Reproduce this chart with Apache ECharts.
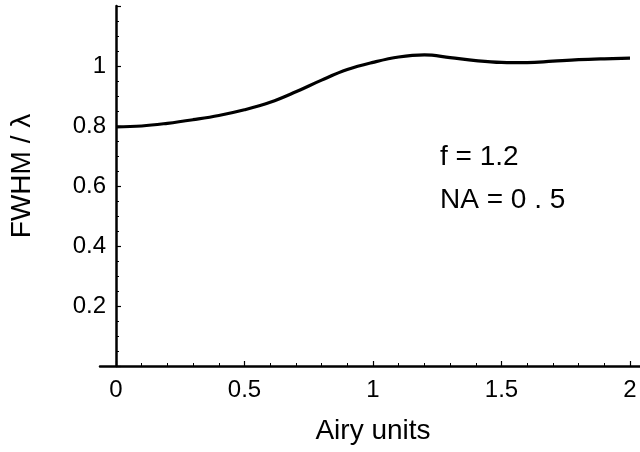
<!DOCTYPE html>
<html>
<head>
<meta charset="utf-8">
<script src="https://cdn.jsdelivr.net/npm/echarts@6/dist/echarts.min.js"></script>
<style>
  html, body { margin: 0; padding: 0; background: #fff; }
  #chart { width: 640px; height: 452px; }
</style>
</head>
<body>
<div id="chart"></div>
<script>
// values
const airyUnits = [0, 0.1, 0.2, 0.3, 0.4, 0.5, 0.6, 0.7, 0.8, 0.9, 1.0,
                   1.1, 1.2, 1.3, 1.4, 1.5, 1.6, 1.7, 1.8, 1.9, 2.0];
const fwhm = [0.797, 0.800, 0.809, 0.821, 0.835, 0.854, 0.879, 0.914, 0.953, 0.988, 1.012,
              1.030, 1.037, 1.028, 1.018, 1.012, 1.011, 1.016, 1.021, 1.024, 1.026];
const xTickLabels = ['0', '0.5', '1', '1.5', '2'];
const yTickLabels = ['0.2', '0.4', '0.6', '0.8', '1'];
const noteLines = ['f = 1.2', 'NA = 0 . 5'];

(function() {
    const chart = echarts.init(document.getElementById('chart'), null, { renderer: 'canvas' });
    const font = 'Liberation Sans, Arial, sans-serif';
    const ink = '#000';

    const fmt = v => String(Math.round(v * 100) / 100);

    const option = {
        backgroundColor: '#fff',
        animation: false,
        grid: [
            { left: 115, right: 10, top: 6, bottom: 86 },
            // wider grid only used to draw the extended x axis line
            { left: 100, right: 0, top: 6, bottom: 86 }
        ],
        xAxis: [
            {
                type: 'value', gridIndex: 0, min: 0, max: 2, interval: 0.5,
                name: 'Airy units', nameLocation: 'middle', nameGap: 51,
                nameTextStyle: { fontFamily: font, fontSize: 28, color: ink },
                axisLine: { show: false },
                axisTick: { show: true, inside: true, length: 5, lineStyle: { color: ink, width: 1.2 } },
                minorTick: { show: true, splitNumber: 5, length: 3, lineStyle: { color: ink, width: 1 } },
                splitLine: { show: false },
                axisLabel: {
                    margin: 12, fontFamily: font, fontSize: 24, color: ink,
                    formatter: v => xTickLabels.includes(fmt(v)) ? fmt(v) : ''
                }
            },
            {
                type: 'value', gridIndex: 1, min: 0, max: 1,
                axisLine: { show: true, lineStyle: { color: ink, width: 2.5 } },
                axisTick: { show: false }, axisLabel: { show: false }, splitLine: { show: false }
            }
        ],
        yAxis: [
            {
                type: 'value', gridIndex: 0, min: 0, max: 1.2, interval: 0.2,
                name: 'FWHM / λ', nameLocation: 'middle', nameGap: 80,
                nameTextStyle: { fontFamily: font, fontSize: 28, color: ink, padding: [0, 0, 0, 20] },
                axisLine: { show: true, onZero: false, lineStyle: { color: ink, width: 2.5 } },
                axisTick: { show: true, inside: true, length: 5, lineStyle: { color: ink, width: 1.2 } },
                minorTick: { show: true, splitNumber: 4, length: 3, lineStyle: { color: ink, width: 1 } },
                splitLine: { show: false },
                axisLabel: {
                    margin: 10, fontFamily: font, fontSize: 24, color: ink,
                    formatter: v => yTickLabels.includes(fmt(v)) ? fmt(v) : ''
                }
            },
            { type: 'value', gridIndex: 1, show: false, min: 0, max: 1 }
        ],
        series: [
            {
                type: 'line',
                xAxisIndex: 0, yAxisIndex: 0,
                data: airyUnits.map((x, i) => [x, fwhm[i]]),
                smooth: 0.4,
                showSymbol: false,
                lineStyle: { color: ink, width: 3.2 }
            }
        ],
        graphic: [
            {
                type: 'text', left: 440, top: 143,
                style: { text: noteLines[0], fontFamily: font, fontSize: 28, fill: ink }
            },
            {
                type: 'text', left: 440, top: 186,
                style: { text: noteLines[1], fontFamily: font, fontSize: 28, fill: ink }
            }
        ]
    };

    chart.setOption(option);
})();
</script>
</body>
</html>
